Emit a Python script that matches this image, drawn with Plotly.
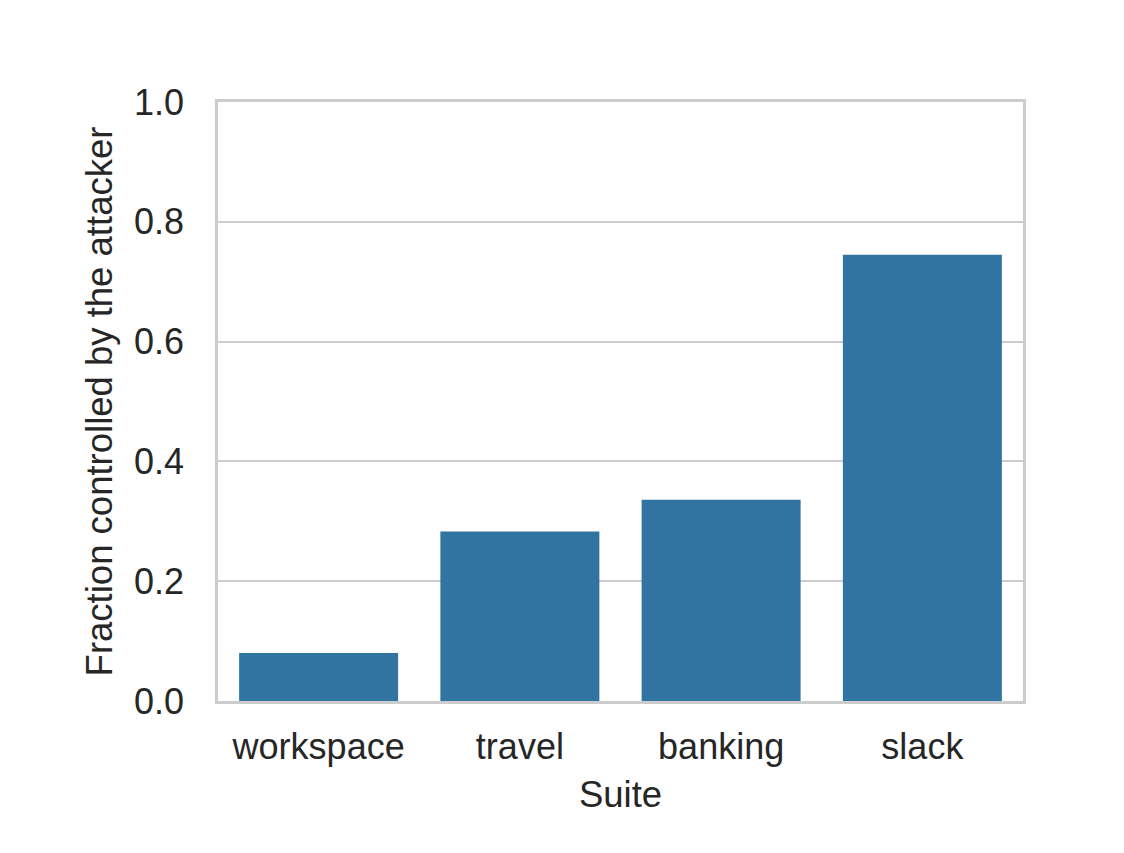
import plotly.graph_objects as go

suites = ["workspace", "travel", "banking", "slack"]
fractions = [0.080, 0.283, 0.336, 0.745]
y_ticks = [0.0, 0.2, 0.4, 0.6, 0.8, 1.0]
y_tick_labels = ["0.0", "0.2", "0.4", "0.6", "0.8", "1.0"]

BAR_COLOR = "#3274a1"
GRID = "#cccccc"
TEXT = "#262626"
FONT = "Arial, Liberation Sans, sans-serif"

fig = go.Figure()
fig.add_trace(go.Bar(x=suites, y=fractions, marker=dict(color=BAR_COLOR, line=dict(width=0)),
                     width=0.79, showlegend=False))

fig.update_layout(
    width=1124, height=853,
    margin=dict(l=210, r=109, t=94, b=160),
    paper_bgcolor="white", plot_bgcolor="white",
    font=dict(family=FONT, color=TEXT, size=36),
    bargap=0.2,
)
fig.update_xaxes(
    title=dict(text="Suite", font=dict(size=36.5, family=FONT, color=TEXT), standoff=16),
    showgrid=False, showline=True, linecolor=GRID, linewidth=2.5, mirror=True,
    ticks="", tickfont=dict(size=36, family=FONT, color=TEXT), ticklabelstandoff=12,
    range=[-0.5, 3.5],
)
fig.update_yaxes(
    title=dict(text="Fraction controlled by the attacker", font=dict(size=36.5, family=FONT, color=TEXT), standoff=11),
    range=[0, 1.0], tickvals=y_ticks, ticktext=y_tick_labels,
    showgrid=True, gridcolor=GRID, gridwidth=2.2, zeroline=False,
    showline=True, linecolor=GRID, linewidth=2.5, mirror=True,
    ticks="", tickfont=dict(size=36, family=FONT, color=TEXT), ticklabelstandoff=24,
)

fig.write_html("out.html")
